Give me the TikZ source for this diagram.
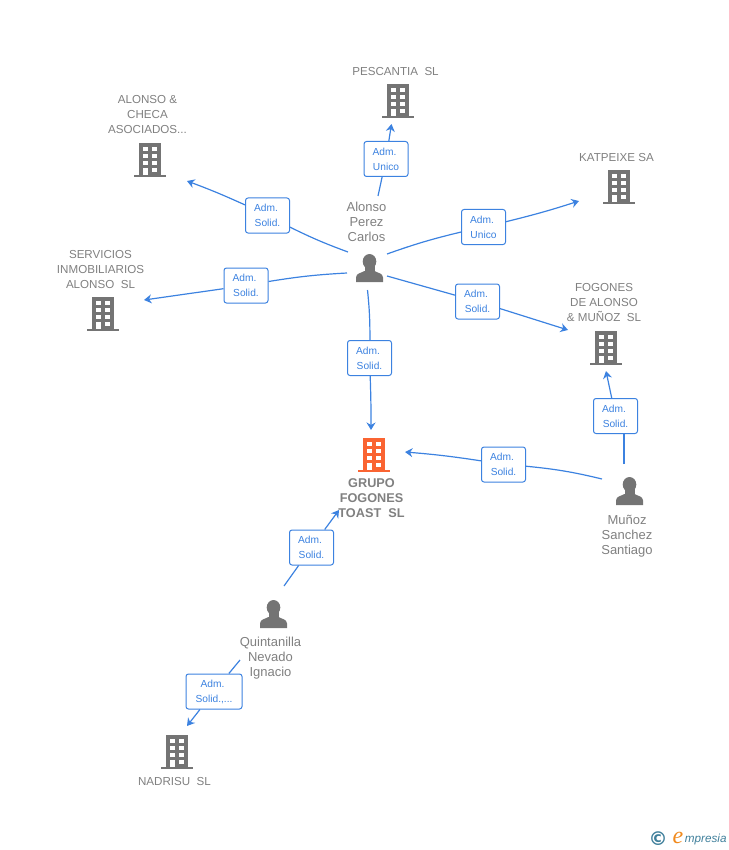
\documentclass[tikz,border=0pt]{standalone}
\usepackage{fontspec}
\setmainfont{Liberation Sans}
\newfontfamily\SerifItalic{Liberation Serif}
\newfontfamily\DejaSans{DejaVu Sans}
\usetikzlibrary{arrows.meta,positioning}
\definecolor{linkblue}{HTML}{3C82E0}
\definecolor{iconGray}{HTML}{747474}
\definecolor{nameGray}{HTML}{808080}
\definecolor{mainOrange}{HTML}{FA6432}
\definecolor{logoBlue}{HTML}{3F7F9B}
\definecolor{logoOrange}{HTML}{F08A1E}
\newcommand{\Adm}{Adm.\kern3pt}
\newcommand{\BuildingIcon}[1]{%
  \begin{scope}[shift={(path picture bounding box.center)}]
    \fill[#1] (-11,-17) rectangle (11,15);
    \fill[#1] (-16,15) rectangle (16,17);
    \foreach \wy in {-13,-6,1,8} {
      \fill[white] (-7,\wy) rectangle (-2,\wy+4);
      \fill[white] (2,\wy) rectangle (7,\wy+4);
    }
    \fill[white] (-7,8) rectangle (-2,15);
  \end{scope}}
\tikzset{
  every picture/.style={line width=0.8pt},
  bldg/.style={minimum width=32pt, minimum height=34pt, inner sep=0pt, path picture={\BuildingIcon{iconGray}}},
  mainbldg/.style={minimum width=32pt, minimum height=34pt, inner sep=0pt, path picture={\BuildingIcon{mainOrange}}},
  person/.style={minimum width=28pt, minimum height=30pt, inner sep=0pt, path picture={
    \begin{scope}[shift={(path picture bounding box.center)}]
      \fill[iconGray] (0,-6.5) ellipse (6.8 and 7.5);
      \fill[iconGray] (-5,-3) rectangle (5,6);
      \fill[iconGray] (-13.5,14) -- (-13.5,9.5) .. controls (-13.5,5) and (-8,5) .. (-5,3)
        -- (5,3) .. controls (8,5) and (13.5,5) .. (13.5,9.5) -- (13.5,14) -- cycle;
    \end{scope}}},
  firm/.style={text=nameGray, align=center, inner sep=0pt, font=\fontsize{11.6}{15}\selectfont},
  mainfirm/.style={text=nameGray, align=center, inner sep=0pt, font=\fontsize{12.7}{15}\selectfont\bfseries},
  who/.style={text=nameGray, align=center, inner sep=0pt, font=\fontsize{13}{15}\selectfont},
  role/.style={draw=linkblue, fill=white, rounded corners=2.5pt, line width=1pt, text=linkblue, align=center,
    minimum width=44pt, minimum height=35pt, inner sep=0pt, font=\fontsize{10.2}{15}\selectfont},
  link/.style={draw=linkblue, line width=1.2pt},
  linkto/.style={link, -{Stealth[length=7.5pt,width=9pt]}}
}
\begin{document}
\begin{tikzpicture}[x=1pt, y=-1pt]
    \useasboundingbox (0,0) rectangle (728,850);

    \node [person] (alonsop) at (369.5,268) {};
    \node [person] (munoz) at (629.5,491) {};
    \node [person] (quinta) at (273.5,614) {};

    \node [mainbldg] (grupo) at (374,455) {};
    \node [bldg] (pescantia) at (398,101) {};
    \node [bldg] (checa) at (150,160) {};
    \node [bldg] (katpeixe) at (619,187) {};
    \node [bldg] (servicios) at (103,314) {};
    \node [bldg] (fogones) at (606,348) {};
    \node [bldg] (nadrisu) at (177,752) {};

    \node [firm, above=8pt of pescantia, xshift=-2.5pt] (pescantiaT) {PESCANTIA\ \ SL};
    \node [firm, above=9pt of checa, xshift=-2.5pt] (checaT) {ALONSO \&\\CHECA\\ASOCIADOS...};
    \node [firm, above=8pt of katpeixe, xshift=-2.5pt] (katpeixeT) {KATPEIXE SA};
    \node [firm, above=7.5pt of servicios, xshift=-2.5pt] (serviciosT) {SERVICIOS\\INMOBILIARIOS\\ALONSO\ \ SL};
    \node [firm, above=8.5pt of fogones, xshift=-2pt] (fogonesT) {FOGONES\\DE ALONSO\\\& MUÑOZ\ \ SL};
    \node [firm, below=8pt of nadrisu, xshift=-2.5pt] (nadrisuT) {NADRISU\ \ SL};
    \node [mainfirm, below=6pt of grupo, xshift=-2.5pt] (grupoT) {GRUPO\\FOGONES\\TOAST\ \ SL};
    \node [who, above=11pt of alonsop, xshift=-3pt] (alonsoT) {Alonso\\Perez\\Carlos};
    \node [who, below=8pt of munoz, xshift=-2.5pt] (munozT) {Muñoz\\Sanchez\\Santiago};
    \node [who, below=7.5pt of quinta, xshift=-3pt] (quintaT) {Quintanilla\\Nevado\\Ignacio};

    \node [role] (r1) at (386,159) {\Adm\\Unico};
    \node [role] (r2) at (267.5,215.5) {\Adm\\Solid.};
    \node [role] (r3) at (483.5,227) {\Adm\\Unico};
    \node [role] (r4) at (246,285.5) {\Adm\\Solid.};
    \node [role] (r5) at (477.5,301.5) {\Adm\\Solid.};
    \node [role] (r6) at (369.5,358) {\Adm\\Solid.};
    \node [role] (r7) at (615.5,416) {\Adm\\Solid.};
    \node [role] (r8) at (503.5,464.5) {\Adm\\Solid.};
    \node [role] (r9) at (311.5,547.5) {\Adm\\Solid.};
    \node [role, minimum width=56pt] (r10) at (214,691.5) {\Adm\\Solid.,...};

    % free ends stop short of the icons
    \coordinate (s1) at (378,196);
    \coordinate (e1) at (391.5,124);
    \coordinate (s2) at (348,252);
    \coordinate (e2) at (187,181);
    \coordinate (s3) at (387,254);
    \coordinate (e3) at (579,201);
    \coordinate (s4) at (347,273);
    \coordinate (e4) at (144,300);
    \coordinate (s5) at (387,276);
    \coordinate (e5) at (568,330);
    \coordinate (s6) at (367.5,290);
    \coordinate (e6) at (371,430);
    \coordinate (s7) at (624,464);
    \coordinate (e7) at (606,371);
    \coordinate (s8) at (602,479);
    \coordinate (e8) at (405,452);
    \coordinate (s9) at (284,586);
    \coordinate (e9) at (339,510);
    \coordinate (s10) at (240,660);
    \coordinate (e10) at (187,726);

    \draw[link] (s1) -- (r1);
    \draw[linkto] (r1) -- (e1);
    \draw[link] (s2) to[bend left=3] (r2);
    \draw[linkto] (r2) to[bend right=2] (e2);
    \draw[link] (s3) to[bend left=3] (r3);
    \draw[linkto] (r3) to[bend right=2] (e3);
    \draw[link] (s4) to[bend right=3] (r4);
    \draw[linkto] (r4) -- (e4);
    \draw[link] (s5) -- (r5);
    \draw[linkto] (r5) -- (e5);
    \draw[link] (s6) to[bend left=3] (r6);
    \draw[linkto] (r6) to[bend left=1] (e6);
    \draw[link] (s7) -- (r7.south -| s7);
    \draw[linkto] (r7) -- (e7);
    \draw[link] (s8) to[bend right=4] (r8);
    \draw[linkto] (r8) to[bend right=2] (e8);
    \draw[link] (s9) -- (r9);
    \draw[linkto] (r9) -- (e9);
    \draw[link] (s10) -- (r10);
    \draw[linkto] (r10) -- (e10);

    \node [text=logoBlue, inner sep=0pt, font=\DejaSans\fontsize{19}{19}\selectfont\bfseries] (copyr) at (658,838.5) {©};
    \node [text=logoOrange, inner sep=0pt, font=\SerifItalic\fontsize{24}{24}\selectfont\itshape] (logoE) at (678,838) {e};
    \node [text=logoBlue, inner sep=0pt, font=\fontsize{11.7}{12}\selectfont\itshape, anchor=west] (logoT) at (684.5,839.5) {mpresia};
  \end{tikzpicture}
\end{document}
